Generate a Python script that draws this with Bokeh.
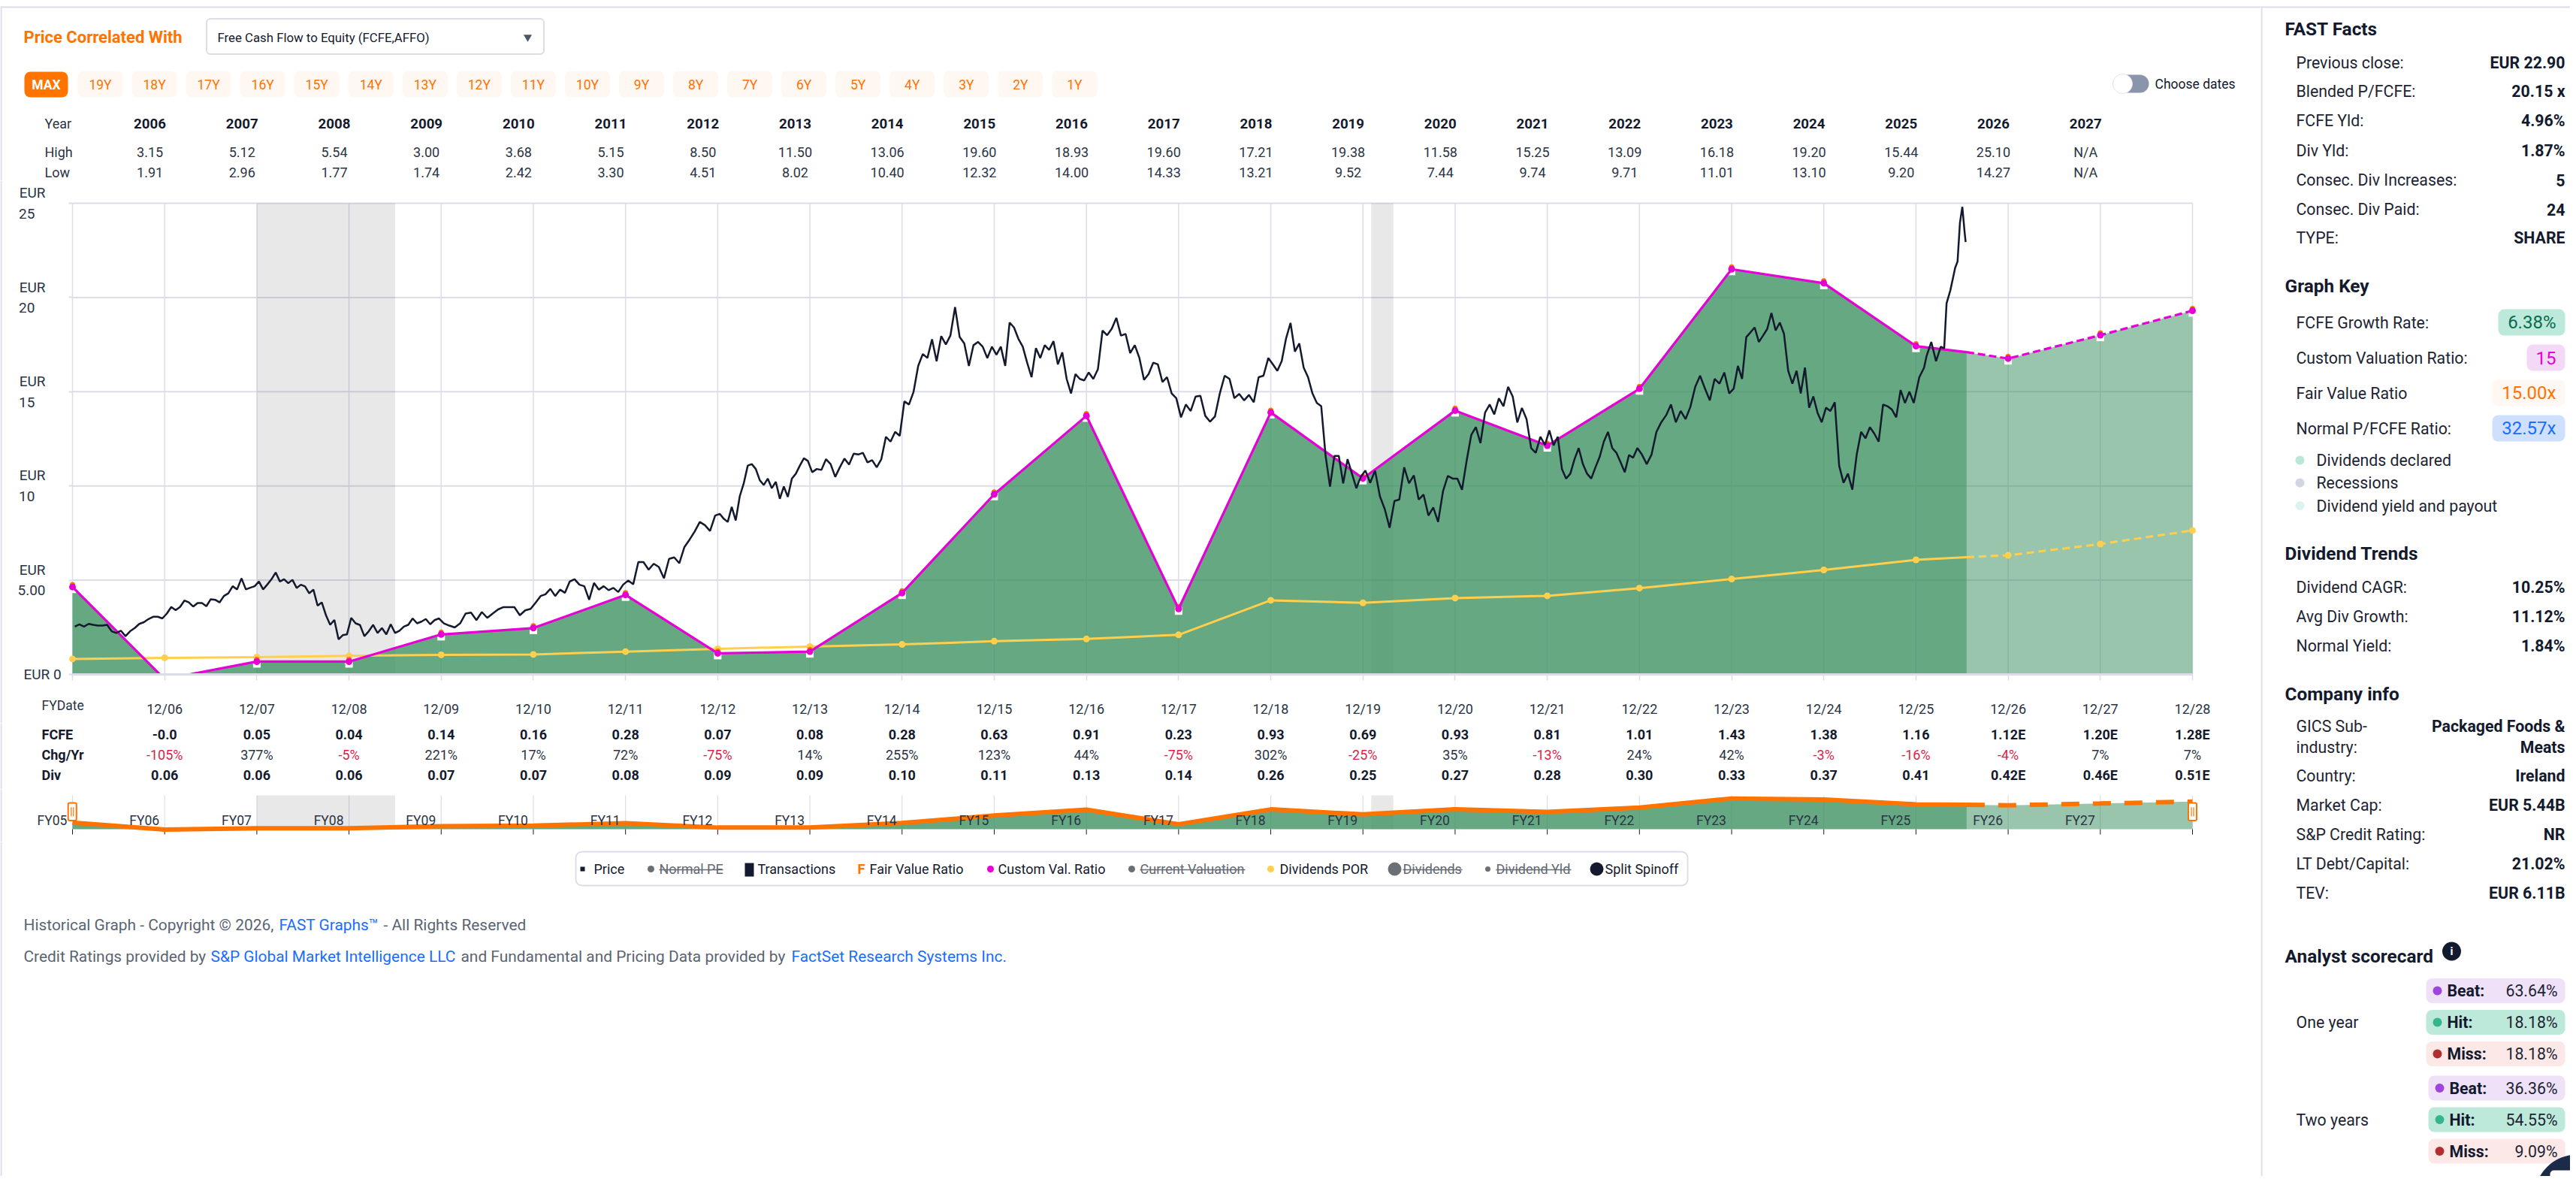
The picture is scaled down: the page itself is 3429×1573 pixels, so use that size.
from bokeh.plotting import figure
from bokeh.layouts import column, row
from bokeh.models import Range1d, FixedTicker, LinearAxis
from bokeh.core.properties import value
from bokeh.embed import file_html
from bokeh.resources import INLINE

FONT = "Roboto"
ORANGE = "#ff7300"
MAGENTA = "#e600d6"
YELLOW = "#ffcf4d"
GRID = "#dcdde8"
INK = "#141a2e"
SOFT = "#2b3445"

# ---------- data ----------
tick_years = list(range(2005, 2029))
tick_labels = ["12/%02d" % (y % 100) for y in tick_years[1:]]
table_years = ["2006","2007","2008","2009","2010","2011","2012","2013","2014","2015","2016","2017","2018","2019","2020","2021","2022","2023","2024","2025","2026","2027"]
high = ["3.15","5.12","5.54","3.00","3.68","5.15","8.50","11.50","13.06","19.60","18.93","19.60","17.21","19.38","11.58","15.25","13.09","16.18","19.20","15.44","25.10","N/A"]
low = ["1.91","2.96","1.77","1.74","2.42","3.30","4.51","8.02","10.40","12.32","14.00","14.33","13.21","9.52","7.44","9.74","9.71","11.01","13.10","9.20","14.27","N/A"]
fcfe = ["-0.0","0.05","0.04","0.14","0.16","0.28","0.07","0.08","0.28","0.63","0.91","0.23","0.93","0.69","0.93","0.81","1.01","1.43","1.38","1.16","1.12E","1.20E","1.28E"]
chg = ["-105%","377%","-5%","221%","17%","72%","-75%","14%","255%","123%","44%","-75%","302%","-25%","35%","-13%","24%","42%","-3%","-16%","-4%","7%","7%"]
div = ["0.06","0.06","0.06","0.07","0.07","0.08","0.09","0.09","0.10","0.11","0.13","0.14","0.26","0.25","0.27","0.28","0.30","0.33","0.37","0.41","0.42E","0.46E","0.51E"]
fy_labels = ["FY%02d" % i for i in range(5, 28)]
range_buttons = ["19Y","18Y","17Y","16Y","15Y","14Y","13Y","12Y","11Y","10Y","9Y","8Y","7Y","6Y","5Y","4Y","3Y","2Y","1Y"]

custom_ratio = [4.64,-0.25,0.68,0.68,2.12,2.46,4.22,1.12,1.21,4.32,9.56,13.72,3.48,13.9,10.4,14.0,12.14,15.16,21.5,20.76,17.42,16.76,18.0,19.3]
dividend_por = [0.82,0.88,0.92,0.99,1.04,1.06,1.21,1.36,1.48,1.59,1.76,1.88,2.1,3.93,3.8,4.05,4.17,4.58,5.06,5.54,6.08,6.32,6.92,7.64]
now_x = 2025.55
custom_now = 17.1
dividend_now = 6.22

recessions = [(2007.0, 2008.5), (2019.09, 2019.33)]

price_2006 = [2.54,2.66,2.54,2.68,2.63,2.59,2.59,2.63,2.29,2.20,2.32,2.03,2.29,2.46,2.68,2.77,2.94,3.06,3.06,2.97]
price_2007 = [3.23,3.58,3.41,3.58,3.92,3.82,3.60,3.79,3.79,3.62,3.99,3.96,3.82,4.16,4.30,4.68,4.51,5.10,4.51,4.60,4.68]
price_2008 = [4.93,4.51,4.77,5.05,5.41,4.93,5.05,4.84,5.02,4.59,4.76,4.67,4.30,4.50,3.65,3.82,3.14,2.63,2.89,1.86,2.08,2.12]
price_2009 = [3.00,2.71,2.62,2.03,2.29,2.63,2.20,2.46,2.12,2.66,2.20,2.32,2.54,2.63,2.97,2.71,2.80,2.94,2.66,2.88,2.97]
price_2010 = [2.71,2.59,2.49,2.71,3.23,3.28,2.88,3.31,3.00,3.23,3.45,3.57,3.57,3.57,3.14,3.40,3.48]
price_2011 = [3.82,4.16,4.25,4.54,4.16,4.50,4.33,4.93,5.05,4.76,4.68,3.96,4.85,4.50,4.68,4.47,4.59,4.37,4.76]
price_2012 = [4.98,4.78,5.96,5.96,5.56,5.87,5.70,5.10,6.13,6.21,5.90,6.76,7.15,7.58,8.09,7.92,7.61,8.43]
price_2013 = [8.52,8.26,8.09,8.89,8.17,9.45,10.14,11.08,11.16,10.9,10.3,10.05,10.39,9.88,10.22,9.32,9.97,9.42,10.39,10.65,11.08,11.47,11.33]
price_2014 = [10.73,10.9,10.85,11.42,11.16,10.48,10.99,11.45,11.13,11.71,11.67,11.76,11.25,11.37,10.99,11.42,12.61,12.35,12.87,12.66]
price_2015 = [14.49,14.32,15.0,16.37,17.0,16.79,17.78,16.62,17.95,17.51,17.99,19.49,17.9,17.56,16.37,17.47,17.64,17.39,16.79,17.39]
price_2016 = [16.96,17.39,16.37,18.67,18.41,17.81,17.39,16.54,15.77,17.31,16.79,17.47,17.22,17.68,16.45,17.09,15.68,14.91,15.93,15.68,15.6]
price_2017 = [16.02,15.68,16.2,18.25,18.0,18.34,18.92,17.98,18.07,17.05,17.47,16.79,15.63,15.94,16.54,16.45,15.52,15.77,14.91,14.66]
price_2018 = [13.64,14.32,13.98,14.74,14.78,13.72,13.41,13.69,14.91,15.85,15.68,14.66,14.88,14.54,14.83,14.44,15.77,15.85,16.79]
price_2019 = [16.45,16.11,16.63,17.84,18.65,17.13,17.56,16.28,15.77,14.91,14.4,14.23,11.59,9.97,11.59,11.59,10.14,11.42,10.65,9.88,10.48]
price_2020 = [10.82,10.17,10.82,9.45,8.77,7.78,9.2,9.28,10.99,10.14,10.56,9.28,9.54,8.43,8.86,8.09,9.71,10.53,10.39]
price_2021 = [10.39,9.8,11.33,12.7,13.12,12.27,13.89,14.32,13.8,14.65,14.23,15.26,14.74,13.37,14.14,13.55,12.01,11.76,12.61,12.18]
price_2022 = [12.95,12.15,12.61,10.9,10.39,10.65,11.42,12.01,11.16,10.65,10.39,10.99,11.54,12.35,12.87,12.01,11.76,11.25,10.73,11.64,11.5,12.01]
price_2023 = [11.67,11.16,11.67,12.87,13.38,13.75,14.32,13.38,13.98,13.55,14.2,15.26,15.85,15.17,14.54,15.68,15.43,16.02,14.91]
price_2024 = [15.17,16.37,15.68,17.9,18.15,18.41,17.64,17.98,18.33,19.18,18.25,18.67,18.07,16.11,15.43,16.11,14.91,16.28,14.15,14.75,13.89,13.38]
price_2025 = [14.15,13.98,14.44,11.07,10.17,10.65,9.8,11.67,12.87,12.53,13.12,12.78,12.35,14.32,14.23,14.06,13.64,15.09,14.4,15.0,14.4]
price_2026_t = [0.036,0.088,0.114,0.166,0.218,0.269,0.306,0.332,0.373,0.425,0.451,0.477,0.503,0.528,0.539]
price_2026 = [15.77,16.28,16.88,17.64,16.62,17.39,17.3,19.69,20.38,21.57,21.91,23.96,24.81,23.45,22.94]
price_years = [price_2006,price_2007,price_2008,price_2009,price_2010,price_2011,price_2012,price_2013,price_2014,price_2015,price_2016,price_2017,price_2018,price_2019,price_2020,price_2021,price_2022,price_2023,price_2024,price_2025]

price_x, price_y = [], []
for i, vals in enumerate(price_years):
    for k, v in enumerate(vals):
        price_x.append(2005 + i + (k + 0.5) / len(vals))
        price_y.append(v)
price_x += [2025 + t for t in price_2026_t]
price_y += price_2026

i_now = tick_years.index(2025) + 1
past_x = tick_years[:i_now] + [now_x]
past_c = custom_ratio[:i_now] + [custom_now]
past_d = dividend_por[:i_now] + [dividend_now]
fut_x = [now_x] + tick_years[i_now:]
fut_c = [custom_now] + custom_ratio[i_now:]
fut_d = [dividend_now] + dividend_por[i_now:]

# ---------- page geometry ----------
PXY = 2822 / 23
PXE = 627 / 25
LEFT_W, SIDE_W = 3009, 412
H_HEAD, H_CHART, H_TABLE, H_NAV, H_FOOT = 240, 722, 88, 70, 445
GREEN = "#3e9263"

def yrs(px0, w):
    return Range1d(2005 + (px0 - 96) / PXY, 2005 + (px0 + w - 96) / PXY)

def panel(px0, py0, w, h, x_range=None, y_range=None):
    p = figure(width=w, height=h, output_backend="svg", toolbar_location=None,
               x_range=x_range or Range1d(px0, px0 + w),
               y_range=y_range or Range1d(py0 + h, py0),
               x_axis_location=None, y_axis_location=None, min_border=0,
               outline_line_color=None, background_fill_color="white", border_fill_color="white")
    p.grid.visible = False
    return p

def txt(p, x, y, t, size=18.7, color=SOFT, bold=False, align="left", **kw):
    p.text([x], [y], text=[t], text_font=value(FONT), text_font_size="%.1fpx" % size,
           text_color=color, text_align=align, text_baseline="middle",
           text_font_style="bold" if bold else "normal", **kw)

def pill(p, l, r, t, b, fill, rad=8, line=None, lw=1):
    p.quad(left=[l], right=[r], top=[t], bottom=[b], fill_color=fill,
           line_color=line, line_width=lw, border_radius=rad)

# ---------- header ----------
head = panel(0, 0, LEFT_W, H_HEAD)
head.segment([0], [9], [3009], [9], line_color=GRID, line_width=2)
head.segment([1], [8], [1], [240], line_color=GRID, line_width=2)
txt(head, 31, 49, "Price Correlated With", 22, ORANGE, True)
pill(head, 274.5, 723.5, 24.5, 71.5, "white", 5, GRID, 2)
txt(head, 289, 49, "Free Cash Flow to Equity (FCFE,AFFO)", 16.8, INK)
head.scatter([702], [49], marker="inverted_triangle", size=11, fill_color="#4a5568", line_color=None)
pill(head, 32, 90, 95, 129, ORANGE)
txt(head, 61, 112, "MAX", 17.5, "white", True, "center")
for i, lab in enumerate(range_buttons):
    l = 103 + i * 72.05
    pill(head, l, l + 60, 94, 129, "#fff7f2")
    txt(head, l + 30, 112, lab, 17.5, ORANGE, False, "center")
pill(head, 2812, 2860, 99, 123, "#8a94ab", 12)
head.scatter([2825], [111], marker="circle", size=26, fill_color="white", line_color="#e3e5ec", line_width=1)
txt(head, 2868, 111, "Choose dates", 17.5, INK)
head.extra_x_ranges = {"years": yrs(0, LEFT_W)}
txt(head, 59, 164, "Year", 18, SOFT)
txt(head, 59, 202, "High", 18, SOFT)
txt(head, 59, 229, "Low", 18, SOFT)
for i, y in enumerate(table_years):
    xv = 2005.84 + i
    txt(head, xv, 164, y, 18.7, INK, True, "center", x_range_name="years")
    txt(head, xv, 202, high[i], 18, SOFT, False, "center", x_range_name="years")
    txt(head, xv, 229, low[i], 18, SOFT, False, "center", x_range_name="years")

# ---------- main chart ----------
y_lo = (897 - 962) / PXE
y_hi = (897 - 240) / PXE
chart = panel(0, 240, LEFT_W, H_CHART, x_range=yrs(0, LEFT_W), y_range=Range1d(y_lo, y_hi))
chart.segment([2005 + (1 - 96) / PXY], [y_lo], [2005 + (1 - 96) / PXY], [y_hi], line_color=GRID, line_width=2)
grid_levels = [5, 10, 15, 20, 25]
chart.segment(tick_years, [0] * 24, tick_years, [25] * 24, line_color=GRID, line_width=1.5)
chart.segment([2005] * 5, grid_levels, [2028] * 5, grid_levels, line_color=GRID, line_width=2)
for a, b in recessions:
    chart.quad(left=[a], right=[b], top=[25], bottom=[0], fill_color="black", fill_alpha=0.09, line_color=None)
chart.varea(x=past_x, y1=[0] * len(past_x), y2=past_c, fill_color=GREEN, fill_alpha=0.8)
chart.varea(x=fut_x, y1=[0] * len(fut_x), y2=fut_c, fill_color=GREEN, fill_alpha=0.53)
chart.line(past_x, past_d, line_color=YELLOW, line_width=3)
chart.line(fut_x, fut_d, line_color=YELLOW, line_width=3, line_dash="10 6")
chart.scatter(tick_years, dividend_por, marker="circle", size=9, fill_color=YELLOW, line_color=None)
chart.scatter(tick_years, [v - 0.12 for v in custom_ratio], marker="square", size=10, fill_color="white", line_color=None)
chart.scatter(tick_years, [v + 0.12 for v in custom_ratio], marker="circle", size=7, fill_color=ORANGE, line_color=None)
chart.line(past_x, past_c, line_color=MAGENTA, line_width=3.2)
chart.line(fut_x, fut_c, line_color=MAGENTA, line_width=3.2, line_dash="10 5")
chart.scatter(tick_years, custom_ratio, marker="circle", size=9, fill_color=MAGENTA, line_color=None)
chart.line(price_x, price_y, line_color=INK, line_width=2.5)
# everything under the zero line is cut off, as in the reference
chart.quad(left=[2004.5], right=[2028.5], top=[0], bottom=[y_lo], fill_color="white", line_color=None)
txt(chart, 2005 + (31 - 96) / PXY, 0, "EUR 0", 19, SOFT)
txt(chart, 2005 + (55 - 96) / PXY, -41 / PXE, "FYDate", 17.5, SOFT)

xa = LinearAxis(fixed_location=0, bounds=(2005, 2028),
                ticker=FixedTicker(ticks=tick_years[1:], minor_ticks=[2005]))
xa.major_label_overrides = {y: l for y, l in zip(tick_years[1:], tick_labels)}
xa.major_label_text_font = FONT
xa.major_label_text_font_size = "18px"
xa.major_label_text_color = SOFT
xa.major_label_standoff = 27
xa.axis_line_color = GRID
xa.axis_line_width = 3
for attr in ("major", "minor"):
    setattr(xa, attr + "_tick_line_color", GRID)
    setattr(xa, attr + "_tick_line_width", 1.5)
    setattr(xa, attr + "_tick_in", 0)
    setattr(xa, attr + "_tick_out", 8)
chart.add_layout(xa, "below")
NB = "\u00a0"
ya = LinearAxis(fixed_location=2005, ticker=FixedTicker(ticks=grid_levels, minor_ticks=[0]))
ya.major_label_overrides = {5: "EUR\n5.00", 10: "EUR\n10" + NB * 3, 15: "EUR\n15" + NB * 3,
                            20: "EUR\n20" + NB * 3, 25: "EUR\n25" + NB * 3}
ya.major_label_text_font = FONT
ya.major_label_text_font_size = "19px"
ya.major_label_text_color = SOFT
ya.major_label_text_line_height = 1.2
ya.major_label_standoff = 31
ya.axis_line_color = None
for attr in ("major", "minor"):
    setattr(ya, attr + "_tick_line_color", GRID)
    setattr(ya, attr + "_tick_line_width", 2)
    setattr(ya, attr + "_tick_in", 0)
    setattr(ya, attr + "_tick_out", 5)
chart.add_layout(ya, "left")

# ---------- table under the chart ----------
tbl = panel(0, 962, LEFT_W, H_TABLE, x_range=yrs(0, LEFT_W))
tbl.segment([2005 + (1 - 96) / PXY], [962], [2005 + (1 - 96) / PXY], [1050], line_color=GRID, line_width=2)
rows_y = [977, 1004, 1031]
x_lab = 2005 + (55 - 96) / PXY
txt(tbl, x_lab, rows_y[0], "FCFE", 18, INK, True)
txt(tbl, x_lab, rows_y[1], "Chg/Yr", 18, INK, True)
txt(tbl, x_lab, rows_y[2], "Div", 18, INK, True)
for i, y in enumerate(tick_years[1:]):
    txt(tbl, y, rows_y[0], fcfe[i], 18, INK, True, "center")
    c = "#e11d48" if chg[i].startswith("-") else SOFT
    txt(tbl, y, rows_y[1], chg[i], 18, c, False, "center")
    txt(tbl, y, rows_y[2], div[i], 18, INK, True, "center")

# ---------- navigator ----------
NAV_TOP = 45 / 1.9
nav = panel(0, 1050, LEFT_W, H_NAV, x_range=yrs(0, LEFT_W), y_range=Range1d(-17 / 1.9, 53 / 1.9))
nav.segment([2005 + (1 - 96) / PXY], [-17 / 1.9], [2005 + (1 - 96) / PXY], [53 / 1.9], line_color=GRID, line_width=2)
nav.segment(tick_years, [0] * 24, tick_years, [NAV_TOP] * 24, line_color=GRID, line_width=1.2)
nav.segment(tick_years, [-7 / 1.9] * 24, tick_years, [0] * 24, line_color=INK, line_width=1)
for a, b in recessions:
    nav.quad(left=[a], right=[b], top=[NAV_TOP], bottom=[0], fill_color="black", fill_alpha=0.09, line_color=None)
nav.varea(x=past_x, y1=[0] * len(past_x), y2=past_c, fill_color=GREEN, fill_alpha=0.8)
nav.varea(x=fut_x, y1=[0] * len(fut_x), y2=fut_c, fill_color=GREEN, fill_alpha=0.53)
nav.line(past_x, past_c, line_color=ORANGE, line_width=6)
nav.line(fut_x, fut_c, line_color=ORANGE, line_width=6, line_dash="24 18")
for i, lab in enumerate(fy_labels):
    nav.text([2004.78 + i], [6.3], text=[lab], text_font=value(FONT), text_font_size="17.5px",
             text_color=SOFT, text_align="center", text_baseline="middle")
for xc in (2005 - 0.002, 2028):
    nav.quad(left=[xc - 0.045], right=[xc + 0.045], top=[18.4], bottom=[6], fill_color="white",
             line_color=ORANGE, line_width=2, border_radius=2)
    nav.segment([xc - 0.012, xc + 0.012], [9, 9], [xc - 0.012, xc + 0.012], [15.4, 15.4],
                line_color=ORANGE, line_width=1.2)

# ---------- legend + footer ----------
foot = panel(0, 1120, LEFT_W, H_FOOT)
foot.segment([1], [1120], [1], [1565], line_color=GRID, line_width=2)
pill(foot, 766, 2246, 1133, 1178, "white", 8, GRID, 2)
LY = 1156
def leg(mx, tx, end, label, color, size, struck=False, marker="circle"):
    if marker:
        foot.scatter([mx], [LY], marker=marker, size=size, fill_color=color, line_color=None)
    txt(foot, tx, LY, label, 18, "#666a73" if struck else INK)
    if struck:
        foot.segment([tx], [LY + 1], [end], [LY + 1], line_color="#666a73", line_width=1.5)
leg(775, 790, 0, "Price", INK, 6, marker="square")
leg(866, 877, 962, "Normal PE", "#6b6f76", 9, True)
foot.quad(left=[991], right=[1003], top=[1148], bottom=[1166], fill_color=INK, line_color=None)
leg(0, 1008, 0, "Transactions", INK, 0, marker=None)
txt(foot, 1141, LY, "F", 18, ORANGE, True)
leg(0, 1157, 0, "Fair Value Ratio", INK, 0, marker=None)
leg(1318, 1328, 0, "Custom Val. Ratio", MAGENTA, 9)
leg(1506, 1517, 1657, "Current Valuation", "#6b6f76", 9, True)
leg(1691, 1703, 0, "Dividends POR", YELLOW, 9)
leg(1856, 1867, 1946, "Dividends", "#6b6f76", 18, True)
leg(1980, 1991, 2091, "Dividend Yld", "#6b6f76", 7, True)
leg(2125, 2136, 0, "Split Spinoff", INK, 18)
GREY = "#5b6472"
BLUE = "#1a6dff"
txt(foot, 31, 1230, "Historical Graph - Copyright © 2026,", 20.9, GREY)
txt(foot, 371, 1230, "FAST Graphs™", 20.9, BLUE)
txt(foot, 510, 1230, "- All Rights Reserved", 20.9, GREY)
txt(foot, 31, 1272, "Credit Ratings provided by", 20.9, GREY)
txt(foot, 280, 1272, "S&P Global Market Intelligence LLC", 20.9, BLUE)
txt(foot, 613, 1272, "and Fundamental and Pricing Data provided by", 20.9, GREY)
txt(foot, 1053, 1272, "FactSet Research Systems Inc.", 20.9, BLUE)

# ---------- side panel ----------
side = panel(3009, 0, SIDE_W, 1565)
side.segment([3009], [9], [3421], [9], line_color=GRID, line_width=2)
side.segment([3010], [8], [3010], [1565], line_color=GRID, line_width=2)
HX, LX, RX = 3041, 3056, 3414
SZ = 21.3
DARK = "#1d2433"
def heading(y, t):
    txt(side, HX, y, t, 24.4, INK, True)
def fact(y, a, b):
    txt(side, LX, y, a, SZ, DARK)
    txt(side, RX, y, b, SZ, INK, True, "right")
heading(38, "FAST Facts")
for y, a, b in [(83, "Previous close:", "EUR 22.90"), (121, "Blended P/FCFE:", "20.15 x"), (160, "FCFE Yld:", "4.96%"),
                (200, "Div Yld:", "1.87%"), (239, "Consec. Div Increases:", "5"), (278, "Consec. Div Paid:", "24"),
                (316, "TYPE:", "SHARE")]:
    fact(y, a, b)
heading(380, "Graph Key")
for yc, lab, val, l, fill, col in [(428.6, "FCFE Growth Rate:", "6.38%", 3325, "#bde9da", "#0a6b4f"),
                                   (475.5, "Custom Valuation Ratio:", "15", 3363, "#f3d9f6", MAGENTA),
                                   (522.5, "Fair Value Ratio", "15.00x", 3317, "#fff7f2", ORANGE),
                                   (569.5, "Normal P/FCFE Ratio:", "32.57x", 3317, "#cfe0ff", BLUE)]:
    pill(side, l, RX, yc - 17.5, yc + 17.5, fill)
    txt(side, LX, yc, lab, SZ, DARK)
    txt(side, 3402, yc, val, 24, col, False, "right")
for y, c, t in [(612, "#b9e8d9", "Dividends declared"), (642, "#d3d5e0", "Recessions"), (672.5, "#dcf3f2", "Dividend yield and payout")]:
    side.scatter([3061], [y], marker="circle", size=12, fill_color=c, line_color=None)
    txt(side, 3083, y, t, SZ, DARK)
heading(736, "Dividend Trends")
for y, a, b in [(781, "Dividend CAGR:", "10.25%"), (819.5, "Avg Div Growth:", "11.12%"), (858.5, "Normal Yield:", "1.84%")]:
    fact(y, a, b)
heading(923, "Company info")
txt(side, LX, 966, "GICS Sub-", SZ, DARK)
txt(side, LX, 993.5, "industry:", SZ, DARK)
txt(side, RX, 966, "Packaged Foods &", SZ, INK, True, "right")
txt(side, RX, 993.5, "Meats", SZ, INK, True, "right")
for y, a, b in [(1032, "Country:", "Ireland"), (1071, "Market Cap:", "EUR 5.44B"), (1110, "S&P Credit Rating:", "NR"),
                (1149, "LT Debt/Capital:", "21.02%"), (1188, "TEV:", "EUR 6.11B")]:
    fact(y, a, b)
heading(1272, "Analyst scorecard")
side.scatter([3263], [1265.5], marker="circle", size=25, fill_color=INK, line_color=None)
txt(side, 3263, 1265.5, "i", 15, "white", True, "center")
score = [(1318, 3229, "#efe2f8", "#a044e0", "Beat:", "63.64%"), (1360, 3229, "#bde9da", "#35b58e", "Hit:", "18.18%"),
         (1402, 3229, "#fde8e8", "#b03030", "Miss:", "18.18%"), (1447.5, 3232, "#efe2f8", "#a044e0", "Beat:", "36.36%"),
         (1489.5, 3232, "#bde9da", "#35b58e", "Hit:", "54.55%"), (1531.5, 3232, "#fde8e8", "#b03030", "Miss:", "9.09%")]
for yc, l, fill, dot, lab, val in score:
    pill(side, l, RX, yc - 16.5, yc + 16.5, fill)
    side.scatter([l + 15], [yc], marker="circle", size=12, fill_color=dot, line_color=None)
    txt(side, l + 28, yc, lab, SZ, INK, True)
    txt(side, 3404, yc, val, SZ, DARK, False, "right")
txt(side, LX, 1360, "One year", SZ, DARK)
txt(side, LX, 1490, "Two years", SZ, DARK)
side.scatter([3430], [1593], marker="circle", size=114, fill_color="#1c2b4a", line_color=None)
pill(side, 3394, 3425, 1557, 1590, "white", 5)

page = row(column(head, chart, tbl, nav, foot, spacing=0), side, spacing=0)
open("out.html", "w").write(file_html(page, INLINE))
